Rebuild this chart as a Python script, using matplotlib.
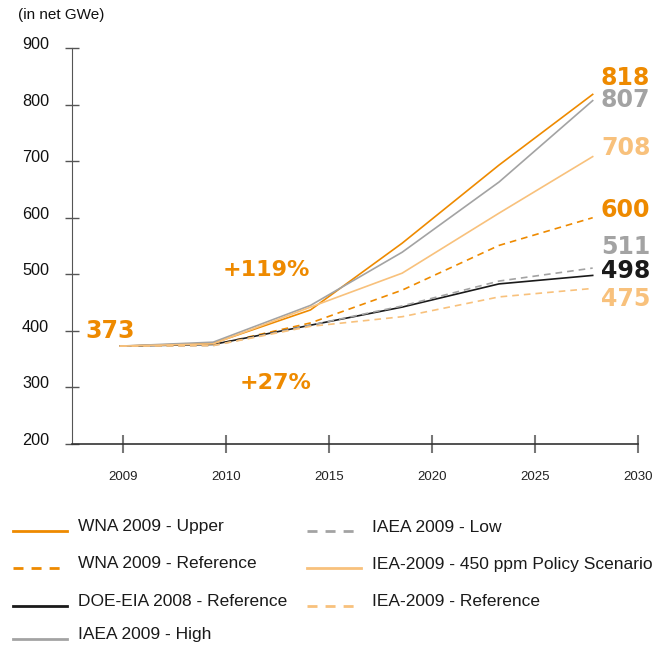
import matplotlib.pyplot as plt
from matplotlib.lines import Line2D
from matplotlib.transforms import ScaledTranslation

# x categories shown on the axis
tick_labels = ['2009', '2010', '2015', '2020', '2025', '2030']
# positions of the projection points along the axis (category units)
x_pts = [-0.03, 0.875, 1.82, 2.71, 3.65, 4.56]

wna_upper = [373, 378, 437, 555, 693, 818]
wna_ref = [373, 375, 414, 472, 551, 600]
doe_ref = [373, 376, 410, 442, 483, 498]
iaea_high = [373, 380, 445, 539, 663, 807]
iaea_low = [373, 374, 410, 444, 488, 511]
iea_450 = [373, 377, 442, 502, 608, 708]
iea_ref = [373, 374, 408, 425, 460, 475]

ORANGE = '#EE8A00'
LIGHT = '#F8C17C'
GRAY = '#A3A3A3'
BLACK = '#1A1A1A'

series = [
    ('WNA 2009 - Upper', wna_upper, ORANGE, '-'),
    ('WNA 2009 - Reference', wna_ref, ORANGE, '--'),
    ('DOE-EIA 2008 - Reference', doe_ref, BLACK, '-'),
    ('IAEA 2009 - High', iaea_high, GRAY, '-'),
    ('IAEA 2009 - Low', iaea_low, GRAY, '--'),
    ('IEA-2009 - 450 ppm Policy Scenario', iea_450, LIGHT, '-'),
    ('IEA-2009 - Reference', iea_ref, LIGHT, '--'),
]

TXT = ['Liberation Sans', 'DejaVu Sans']
BIG = ['DejaVu Sans']

fig = plt.figure(figsize=(6.65, 6.46), dpi=100)
ax = fig.add_axes([72 / 665, 1 - 444 / 646, (638 - 72) / 665, (444 - 48) / 646])

for name, vals, col, ls in series:
    if ls == '--':
        ax.plot(x_pts, vals, color=col, lw=1.2, ls=ls, dashes=(4, 3))
    else:
        ax.plot(x_pts, vals, color=col, lw=1.2)

ax.set_xlim(-0.496, 5.0)
ax.set_ylim(200, 900)
ax.set_yticks(range(200, 1000, 100))
ax.set_xticks(range(len(tick_labels)))
ax.set_xticklabels(tick_labels, fontsize=9.5, family=TXT, color='#222222')
ax.set_yticklabels([str(v) for v in range(200, 1000, 100)], fontsize=11.7,
                   family=TXT, color='#111111')
for s in ['top', 'right']:
    ax.spines[s].set_visible(False)
ax.spines['left'].set_color('#555555')
ax.spines['bottom'].set_color('#333333')
ax.spines['bottom'].set_linewidth(1.2)
ax.tick_params(axis='y', direction='inout', length=10, color='#555555', width=1, pad=11.5)
ax.tick_params(axis='x', direction='inout', length=13, color='#777777', width=1.5, pad=13)
shift = ScaledTranslation(0, 5 / 100, fig.dpi_scale_trans)
for lab in ax.get_yticklabels():
    lab.set_transform(lab.get_transform() + shift)

fig.text(18 / 665, 1 - 15 / 646, '(in net GWe)', fontsize=11, family=TXT, va='center',
         color='#111111')

# end values
end_labels = [(818, ORANGE, 78), (807, GRAY, 100), (708, LIGHT, 148), (600, ORANGE, 210),
              (511, GRAY, 247), (498, BLACK, 271), (475, LIGHT, 299)]
for v, col, ypx in end_labels:
    fig.text(601 / 665, 1 - ypx / 646, str(v), fontsize=17, weight='bold', family=BIG,
             color=col, va='center', ha='left')

fig.text(85 / 665, 1 - 331 / 646, '373', fontsize=17, weight='bold', family=BIG,
         color=ORANGE, va='center', ha='left')
fig.text(223 / 665, 1 - 270 / 646, '+119%', fontsize=16, weight='bold', family=BIG,
         color=ORANGE, va='center', ha='left')
fig.text(240 / 665, 1 - 383 / 646, '+27%', fontsize=16, weight='bold', family=BIG,
         color=ORANGE, va='center', ha='left')

# legend, two columns
rows = [527, 564, 602, 635, 527, 564, 602]
cols = [13, 13, 13, 13, 307, 307, 307]
for (name, vals, col, ls), ypx, xpx in zip(series, rows, cols):
    yf = 1 - ypx / 646
    yl = 1 - (ypx + 4) / 646
    if ls == '--':
        ln = Line2D([xpx / 665, (xpx + 54) / 665], [yl, yl], color=col, lw=2, ls=ls,
                    dashes=(3.6, 2.9), transform=fig.transFigure)
    else:
        ln = Line2D([xpx / 665, (xpx + 54) / 665], [yl, yl], color=col, lw=2,
                    transform=fig.transFigure)
    fig.add_artist(ln)
    fig.text((xpx + 65) / 665, yf, name, fontsize=12.5, family=TXT, va='center',
             color='#1A1A1A')

fig.savefig('out.png', dpi=100)
